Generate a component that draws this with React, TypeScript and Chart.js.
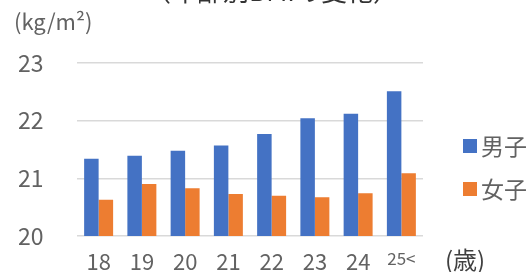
import React, { useEffect, useRef } from "react";
import { Chart, registerables } from "chart.js";

Chart.register(...registerables);

const ageLabels = ["18", "19", "20", "21", "22", "23", "24", "25<"];
const maleBMI = [21.34, 21.39, 21.48, 21.57, 21.77, 22.04, 22.12, 22.51];
const femaleBMI = [20.63, 20.9, 20.83, 20.73, 20.7, 20.67, 20.74, 21.09];
const seriesNames = ["男子", "女子"];
const seriesColors = ["#4472C4", "#ED7D31"];
const yMin = 20;
const yMax = 23;
const titleText = "（年齢別BMIの変化）";
const yUnit = "(kg/m²)";
const xUnit = "(歳)";

const FONT = "'Noto Sans CJK JP', 'Noto Sans', sans-serif";
const TEXT = "#626262";

const extraText = {
  id: "extraText",
  afterDraw(chart: any) {
    const ctx = chart.ctx;
    ctx.save();
    ctx.fillStyle = "#333333";
    ctx.font = `26px ${FONT}`;
    ctx.textAlign = "center";
    ctx.textBaseline = "alphabetic";
    ctx.fillText(titleText, 272, 1);

    ctx.fillStyle = TEXT;
    ctx.font = `22px ${FONT}`;
    ctx.textAlign = "left";
    ctx.textBaseline = "middle";
    ctx.fillText(yUnit, 14, 22);

    ctx.fillStyle = "#404040";
    ctx.font = `24px ${FONT}`;
    ctx.fillText(xUnit, 445, 260);

    // legend
    const items = chart.data.datasets;
    items.forEach((ds: any, i: number) => {
      const cy = 146 + i * 43;
      ctx.fillStyle = ds.backgroundColor;
      ctx.fillRect(463, cy - 7, 14, 14);
      ctx.fillStyle = TEXT;
      ctx.font = `23px ${FONT}`;
      ctx.textBaseline = "middle";
      ctx.fillText(ds.label, 481, cy);
    });
    ctx.restore();
  },
};

export default function App() {
  const ref = useRef<HTMLCanvasElement>(null);
  useEffect(() => {
    document.body.style.margin = "0";
    const chart = new Chart(ref.current!, {
      type: "bar",
      data: {
        labels: ageLabels,
        datasets: [
          { label: seriesNames[0], data: maleBMI, backgroundColor: seriesColors[0] },
          { label: seriesNames[1], data: femaleBMI, backgroundColor: seriesColors[1] },
        ],
      },
      options: {
        responsive: false,
        animation: false,
        layout: { padding: { top: 63, right: 109, left: 18, bottom: 0 } },
        plugins: { legend: { display: false }, title: { display: false }, tooltip: { enabled: false } },
        datasets: { bar: { categoryPercentage: 0.67, barPercentage: 1 } },
        scales: {
          x: {
            grid: { display: false, drawTicks: false },
            border: { display: false },
            ticks: {
              color: TEXT,
              padding: 12,
              font: (c: any) => ({ family: FONT, size: c.index === 7 ? 17 : 22 }),
            },
            afterFit: (s: any) => {
              s.height = 36;
            },
          },
          y: {
            min: yMin,
            max: yMax,
            grid: { color: "#d9d9d9", lineWidth: 1.5, drawTicks: false },
            border: { display: false },
            ticks: {
              stepSize: 1,
              color: TEXT,
              padding: 0,
              crossAlign: "far",
              font: { family: FONT, size: 23 },
            },
            afterFit: (s: any) => {
              s.width = 59;
            },
          },
        },
      },
      plugins: [extraText],
    });
    return () => chart.destroy();
  }, []);
  return <canvas ref={ref} width={532} height={272} style={{ display: "block", width: 532, height: 272 }} />;
}
